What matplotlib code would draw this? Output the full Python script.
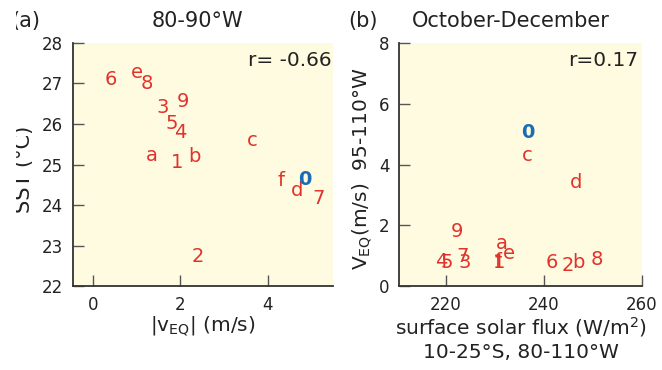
import matplotlib
matplotlib.use("Agg")
import matplotlib.pyplot as plt
from matplotlib.patches import Rectangle

plt.rcParams['font.family'] = ['DejaVu Sans']
plt.rcParams['mathtext.fontset'] = 'dejavusans'

# Panel (a): |vEQ| vs SST, 80-90W
a_labels = ['6', 'e', '8', '3', '9', '5', '4', 'a', '1', 'b', 'c', 'f', 'd', '7', '2']
a_x = [0.41, 1.00, 1.23, 1.60, 2.06, 1.80, 1.99, 1.35, 1.92, 2.33, 3.65, 4.30, 4.66, 5.15, 2.39]
a_y = [27.11, 27.28, 27.01, 26.40, 26.55, 26.00, 25.80, 25.23, 25.06, 25.19, 25.60, 24.60, 24.37, 24.17, 22.74]
a_obs = (4.85, 24.64)

# Panel (b): surface solar flux vs VEQ
b_labels = ['9', 'a', 'e', 'f', '1', '4', '5', '7', '3', '6', '2', 'b', '8', 'c', 'd']
b_x = [222.2, 231.3, 232.9, 230.7, 230.8, 219.0, 220.2, 223.3, 223.9, 241.5, 244.8, 247.1, 250.8, 236.6, 246.5]
b_y = [1.81, 1.41, 1.08, 0.82, 0.76, 0.82, 0.79, 0.96, 0.79, 0.79, 0.69, 0.76, 0.86, 4.31, 3.42]
b_obs = (236.6, 5.04)

red = '#E0332B'
blue = '#1A6DB5'
bg = '#FFFBE1'
txt = '#222222'

fig = plt.figure(figsize=(6.62, 3.70), dpi=100)
axa = fig.add_axes([0.1103, 0.227, 0.3927, 0.6568])
axb = fig.add_axes([0.6027, 0.227, 0.367, 0.6568])

for ax in (axa, axb):
    ax.set_facecolor(bg)
    for s in ('top', 'right'):
        ax.spines[s].set_visible(False)
    for s in ('left', 'bottom'):
        ax.spines[s].set_color('#333333')
        ax.spines[s].set_linewidth(1.3)
    ax.tick_params(direction='in', length=8, width=1, color='#555555',
                   labelsize=12, labelcolor=txt, pad=7)

# Panel a
axa.set_xlim(-0.457, 5.486)
axa.set_ylim(22, 28)
axa.set_xticks([0, 2, 4])
axa.set_yticks([22, 23, 24, 25, 26, 27, 28])
for l, x, y in zip(a_labels, a_x, a_y):
    axa.text(x, y, l, color=red, fontsize=14, ha='center', va='center')
axa.text(a_obs[0], a_obs[1], '0', color=blue, fontsize=14, fontweight='bold',
         ha='center', va='center')
axa.text(0.995, 0.93, 'r= -0.66', transform=axa.transAxes, ha='right', va='center',
         fontsize=14.5, color=txt)
axa.set_xlabel(r'|v$_{\mathrm{EQ}}$| (m/s)', fontsize=14.5, color=txt, labelpad=1)
fig.text(24 / 662, 0.543, 'SST (°C)', rotation=90, fontsize=15, color=txt,
         ha='center', va='center')

# Panel b
axb.set_xlim(210.4, 260)
axb.set_ylim(0, 8)
axb.set_xticks([220, 240, 260])
axb.set_yticks([0, 2, 4, 6, 8])
for l, x, y in zip(b_labels, b_x, b_y):
    axb.text(x, y, l, color=red, fontsize=14, ha='center', va='center')
axb.text(b_obs[0], b_obs[1], '0', color=blue, fontsize=14, fontweight='bold',
         ha='center', va='center')
axb.text(0.985, 0.93, 'r=0.17', transform=axb.transAxes, ha='right', va='center',
         fontsize=14.5, color=txt)
axb.set_xlabel('surface solar flux (W/m$^2$)\n10-25°S, 80-110°W', fontsize=14.5,
               color=txt, labelpad=1, linespacing=1.25)
fig.text(0.548, 0.543, r'V$_{\mathrm{EQ}}$(m/s)  95-110°W', rotation=90, fontsize=14.5,
         color=txt, ha='center', va='center')

# Titles
fig.text(11 / 662, 0.942, '(a)', fontsize=15, color=txt, ha='left', va='center')
fig.text(0.298, 0.942, '80-90°W', fontsize=15, color=txt, ha='center', va='center')
fig.text(348 / 662, 0.942, '(b)', fontsize=15, color=txt, ha='left', va='center')
fig.text(0.772, 0.942, 'October-December', fontsize=15, color=txt,
         ha='center', va='center')

# left edge crop as in the reference
fig.patches.append(Rectangle((0, 0), 16 / 662, 1, transform=fig.transFigure,
                             facecolor='white', edgecolor='none', zorder=100))

fig.savefig('out.png', dpi=100)
